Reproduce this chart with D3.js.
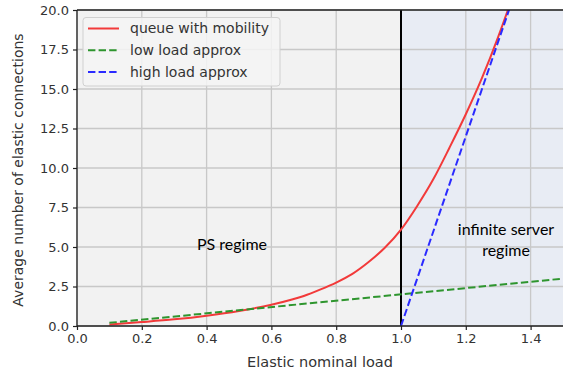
<!DOCTYPE html>
<html>
<head>
<meta charset="utf-8">
<script src="https://cdn.jsdelivr.net/npm/d3@7"></script>
<style>
  html, body { margin: 0; padding: 0; background: #fff; }
  svg { display: block; }
  .tick text { font-family: "DejaVu Sans", sans-serif; font-size: 13px; fill: #333; }
</style>
</head>
<body>
<svg id="chart" width="563" height="379"></svg>
<script>
// Elastic nominal load (rho) samples for the queue model
const loadQueue = [0.1, 0.2, 0.3, 0.4, 0.5, 0.6, 0.7, 0.75, 0.8, 0.85, 0.9, 0.95, 1.0, 1.05, 1.1, 1.15, 1.2, 1.25, 1.3, 1.33];
const queueWithMobility = [0.1, 0.25, 0.42, 0.65, 0.95, 1.35, 1.9, 2.3, 2.75, 3.3, 4.05, 4.95, 6.1, 7.6, 9.3, 11.3, 13.4, 15.7, 18.3, 20.0];

// Low load approximation
const loadLow = [0.1, 1.5];
const lowLoadApprox = [0.2, 3.0];

// High load approximation (starts at rho = 1)
const loadHigh = [1.0, 1.5];
const highLoadApprox = [0, 30];

// Tick labels
const xTicks = [0.0, 0.2, 0.4, 0.6, 0.8, 1.0, 1.2, 1.4];
const yTicks = [0.0, 2.5, 5.0, 7.5, 10.0, 12.5, 15.0, 17.5, 20.0];

// Shaded regimes
const regimeStart = [0.0, 1.0];
const regimeEnd = [1.0, 1.5];
const regimeFill = ["#f2f2f2", "#e8ecf4"];

const svg = d3.select("#chart");
const pLeft = 77, pRight = 563, pTop = 10, pBottom = 326;

const x = d3.scaleLinear().domain([0, 1.5]).range([pLeft, pRight]);
const y = d3.scaleLinear().domain([0, 20]).range([pBottom, pTop]);

svg.append("defs").append("clipPath").attr("id", "plotclip")
  .append("rect").attr("x", pLeft).attr("y", pTop)
  .attr("width", pRight - pLeft).attr("height", pBottom - pTop);

// regime backgrounds
svg.append("g").selectAll("rect").data(regimeStart).join("rect")
  .attr("x", (d) => x(d))
  .attr("y", pTop)
  .attr("width", (d, i) => x(regimeEnd[i]) - x(d))
  .attr("height", pBottom - pTop)
  .attr("fill", (d, i) => regimeFill[i]);

// grid
const grid = svg.append("g").attr("stroke", "#c8c8c8").attr("stroke-width", 1.3);
grid.selectAll(".gx").data(xTicks).join("line")
  .attr("x1", (d) => x(d)).attr("x2", (d) => x(d))
  .attr("y1", pTop).attr("y2", pBottom);
grid.selectAll(".gy").data(yTicks).join("line")
  .attr("x1", pLeft).attr("x2", pRight)
  .attr("y1", (d) => y(d)).attr("y2", (d) => y(d));

// regime boundary
svg.append("line")
  .attr("x1", x(1.0)).attr("x2", x(1.0))
  .attr("y1", pTop).attr("y2", pBottom)
  .attr("stroke", "#000").attr("stroke-width", 2);

// curves
const plot = svg.append("g").attr("clip-path", "url(#plotclip)");
const lineOf = (xs, ys, curve) => d3.line()
  .x((d, i) => x(xs[i])).y((d) => y(d)).curve(curve)(ys);

plot.append("path")
  .attr("d", lineOf(loadQueue, queueWithMobility, d3.curveMonotoneX))
  .attr("fill", "none").attr("stroke", "#f23a3a").attr("stroke-width", 2);
plot.append("path")
  .attr("d", lineOf(loadLow, lowLoadApprox, d3.curveLinear))
  .attr("fill", "none").attr("stroke", "#2e952e").attr("stroke-width", 2)
  .attr("stroke-dasharray", "7.4,3.2");
plot.append("path")
  .attr("d", lineOf(loadHigh, highLoadApprox, d3.curveLinear))
  .attr("fill", "none").attr("stroke", "#2a2aff").attr("stroke-width", 2)
  .attr("stroke-dasharray", "7.4,3.2");

// axes
const xAxis = svg.append("g").attr("transform", `translate(0,${pBottom})`)
  .call(d3.axisBottom(x).tickValues(xTicks).tickFormat(d3.format(".1f")).tickSize(4).tickPadding(4));
const yAxis = svg.append("g").attr("transform", `translate(${pLeft},0)`)
  .call(d3.axisLeft(y).tickValues(yTicks).tickFormat(d3.format(".1f")).tickSize(4).tickPadding(4));
[xAxis, yAxis].forEach((g) => {
  g.select(".domain").attr("stroke", "#222").attr("stroke-width", 1.3);
  g.selectAll(".tick line").attr("stroke", "#222").attr("stroke-width", 1.2);
});
xAxis.select(".domain").attr("d", `M${pLeft},0H${pRight}`);
yAxis.select(".domain").attr("d", `M0,${pBottom}V${pTop}`);
// top spine
svg.append("line").attr("x1", pLeft).attr("x2", pRight).attr("y1", pTop).attr("y2", pTop)
  .attr("stroke", "#222").attr("stroke-width", 1.3);

// axis titles
svg.append("text").attr("x", (pLeft + pRight) / 2).attr("y", 367)
  .attr("text-anchor", "middle")
  .style("font-family", "DejaVu Sans, sans-serif").style("font-size", "14.5px").attr("fill", "#333")
  .text("Elastic nominal load");
svg.append("text").attr("transform", "translate(23,170) rotate(-90)")
  .attr("text-anchor", "middle")
  .style("font-family", "DejaVu Sans, sans-serif").style("font-size", "14px").attr("fill", "#333")
  .text("Average number of elastic connections");

// legend
const legendNames = ["queue with mobility", "low load approx", "high load approx"];
const legendColors = ["#f23a3a", "#2e952e", "#2a2aff"];
const legendDash = [null, "7.4,3.2", "7.4,3.2"];
const lg = svg.append("g");
lg.append("rect").attr("x", 83).attr("y", 17.5).attr("width", 197).attr("height", 68.5)
  .attr("rx", 3).attr("fill", "#f4f4f4").attr("fill-opacity", 0.85)
  .attr("stroke", "#d0d0d0").attr("stroke-width", 1);
legendNames.forEach((name, i) => {
  const yy = 28.5 + i * 21.7;
  lg.append("line").attr("x1", 88).attr("x2", 119).attr("y1", yy).attr("y2", yy)
    .attr("stroke", legendColors[i]).attr("stroke-width", 2)
    .attr("stroke-dasharray", legendDash[i]);
  lg.append("text").attr("x", 130).attr("y", yy).attr("dy", "0.35em")
    .style("font-family", "DejaVu Sans, sans-serif").style("font-size", "14px").attr("fill", "#333")
    .text(name);
});

// regime annotations
const notes = svg.append("g")
  .style("font-family", "Lato, 'Open Sans', sans-serif").style("font-size", "16px").attr("fill", "#000")
  .attr("text-anchor", "middle");
notes.append("text").attr("x", 232).attr("y", 244).attr("dy", "0.35em").text("PS regime");
notes.append("text").attr("x", 506).attr("y", 229).attr("dy", "0.35em").text("infinite server");
notes.append("text").attr("x", 506).attr("y", 250).attr("dy", "0.35em").text("regime");
</script>
</body>
</html>
